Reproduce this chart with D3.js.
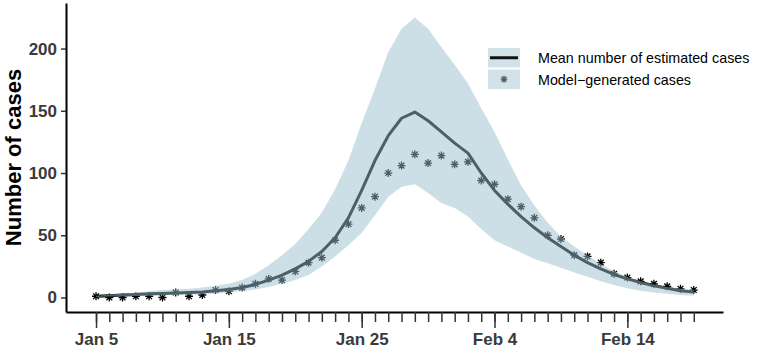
<!DOCTYPE html>
<html>
<head>
<meta charset="utf-8">
<script src="https://cdn.jsdelivr.net/npm/d3@7"></script>
<style>
  body { margin: 0; background: #fff; }
  text { font-family: "Liberation Sans", Arial, sans-serif; }
</style>
</head>
<body>
<div id="chart"></div>
<script>
// daily series, Jan 5 .. Feb 19
var startDay = "2020-01-05";
var modelCases = [1, 0, 0, 1, 1, 0, 4, 1, 2, 6, 5, 8, 11, 15, 14, 21, 28, 32, 46, 59, 72, 81,
  100, 106, 115, 108, 114, 107, 109, 94, 91, 79, 73, 64, 50, 47, 34, 33, 28, 19, 16, 13, 11, 9, 7, 6];
var meanCases = [1, 1.5, 2, 2.5, 3, 3.3, 3.6, 4, 4.5, 5.5, 6.5, 8, 10.5, 14, 18, 23, 29, 37, 48, 64, 86,
  110, 130, 144, 149, 142, 133, 124, 116, 100, 86, 75, 65, 56, 48, 41, 34, 28, 23, 18.5, 15, 12, 9.5, 7.5, 5.5, 4.5];
var upperCases = [1.5, 2.5, 3, 4, 5, 6, 6.5, 7, 8, 9.5, 11, 14, 19, 26, 34, 43, 55, 68, 87, 110, 140,
  168, 197, 216, 225, 216, 201, 187, 172, 152, 133, 111, 90, 74, 60, 49, 41, 34, 27, 21, 16.5, 13, 10.5, 8.5, 7, 6];
var lowerCases = [0.5, 0.8, 1, 1.2, 1.5, 1.8, 2, 2.3, 2.7, 3.2, 4, 5, 6.5, 8.5, 11, 14, 18, 25, 33, 42, 52,
  66, 81, 89, 91, 84, 76, 72, 65, 55, 46, 41, 36, 31, 27.5, 24, 20, 16.7, 13, 10, 7.5, 5.5, 4, 3, 2, 1.5];
var majorTicks = ["2020-01-05", "2020-01-15", "2020-01-25", "2020-02-04", "2020-02-14"];
var yTicks = [0, 50, 100, 150, 200];
var legendLabels = ["Mean number of estimated cases", "Model\u2212generated cases"];

var width = 765, height = 349;
var mLeft = 66, mRight = 723, mTop = 3, mBottom = 312;
var dayMs = 86400000;

var parse = d3.timeParse("%Y-%m-%d");
var t0 = parse(startDay);
var dates = modelCases.map(function(d, i) { return d3.timeDay.offset(t0, i); });
var data = dates.map(function(d, i) {
  return { date: d, model: modelCases[i], mean: meanCases[i], lo: lowerCases[i], hi: upperCases[i] };
});

var svg = d3.select("#chart").append("svg")
  .attr("width", width)
  .attr("height", height);

var x = d3.scaleTime()
  .domain([new Date(+dates[0] - 2.26 * dayMs), new Date(+dates[dates.length - 1] + 2.2 * dayMs)])
  .range([mLeft, mRight]);
var y = d3.scaleLinear()
  .domain([-11.65, 236.6])
  .range([mBottom, mTop]);

var inkBlue = "#9ac0cd";

// asterisk glyph (+ and x)
function star(r) {
  var a = r * 0.72;
  return "M" + (-r) + ",0L" + r + ",0M0," + (-r) + "L0," + r +
    "M" + (-a) + "," + (-a) + "L" + a + "," + a + "M" + (-a) + "," + a + "L" + a + "," + (-a);
}

// points
svg.append("g").selectAll("path")
  .data(data)
  .enter().append("path")
  .attr("transform", function(d) { return "translate(" + x(d.date) + "," + y(d.model) + ")"; })
  .attr("d", star(4))
  .attr("stroke", "#000")
  .attr("stroke-width", 1.3)
  .attr("fill", "none");

// mean line
svg.append("path")
  .datum(data)
  .attr("fill", "none")
  .attr("stroke", "#000")
  .attr("stroke-width", 3)
  .attr("stroke-linejoin", "round")
  .attr("d", d3.line()
    .x(function(d) { return x(d.date); })
    .y(function(d) { return y(d.mean); }));

// ribbon on top, semi transparent
svg.append("path")
  .datum(data)
  .attr("fill", inkBlue)
  .attr("fill-opacity", 0.5)
  .attr("d", d3.area()
    .x(function(d) { return x(d.date); })
    .y0(function(d) { return y(d.lo); })
    .y1(function(d) { return y(d.hi); }));

// y axis
var yAxis = svg.append("g")
  .attr("transform", "translate(" + mLeft + ",0)")
  .call(d3.axisLeft(y).tickValues(yTicks).tickSize(5).tickSizeOuter(0).tickPadding(4));
yAxis.select(".domain").attr("stroke", "#000").attr("stroke-width", 2);
yAxis.selectAll(".tick line").attr("stroke", "#333").attr("stroke-width", 1.5);
yAxis.selectAll(".tick text")
  .attr("font-size", 17).attr("font-weight", "bold").attr("fill", "#3a3a3a")
  .style("font-family", "'Liberation Sans', Arial, sans-serif");

// x axis: minor ticks every day, major ticks with labels
var xMinor = svg.append("g")
  .attr("transform", "translate(0," + mBottom + ")")
  .call(d3.axisBottom(x).tickValues(dates).tickSize(10).tickSizeOuter(0).tickFormat(""));
xMinor.select(".domain").attr("stroke", "#000").attr("stroke-width", 2);
xMinor.selectAll(".tick line").attr("stroke", "#333").attr("stroke-width", 1.5);

var xMajor = svg.append("g")
  .attr("transform", "translate(0," + mBottom + ")")
  .call(d3.axisBottom(x).tickValues(majorTicks.map(parse)).tickSize(16).tickPadding(5)
    .tickFormat(d3.timeFormat("%b %-d")));
xMajor.select(".domain").remove();
xMajor.selectAll(".tick line").attr("stroke", "#333").attr("stroke-width", 1.5);
xMajor.selectAll(".tick text")
  .attr("font-size", 17).attr("font-weight", "bold").attr("fill", "#3a3a3a")
  .style("font-family", "'Liberation Sans', Arial, sans-serif");

// y title
svg.append("text")
  .attr("transform", "translate(21," + ((mTop + mBottom) / 2) + ") rotate(-90)")
  .attr("text-anchor", "middle")
  .attr("font-size", 22)
  .attr("font-weight", "bold")
  .attr("fill", "#000")
  .text("Number of cases");

// legend
var lg = svg.append("g").attr("transform", "translate(488,48)");
lg.selectAll("rect")
  .data(legendLabels)
  .enter().append("rect")
  .attr("x", 0)
  .attr("y", function(d, i) { return i * 21.5; })
  .attr("width", 32)
  .attr("height", 19.5)
  .attr("fill", inkBlue)
  .attr("fill-opacity", 0.45);
lg.append("line")
  .attr("x1", 2).attr("x2", 30)
  .attr("y1", 9.75).attr("y2", 9.75)
  .attr("stroke", "#111").attr("stroke-width", 3);
lg.append("path")
  .attr("transform", "translate(16," + (21.5 + 9.75) + ")")
  .attr("d", star(3.5))
  .attr("stroke", "#4a5a60").attr("stroke-width", 1.2).attr("fill", "none");
lg.selectAll("text")
  .data(legendLabels)
  .enter().append("text")
  .attr("x", 50)
  .attr("y", function(d, i) { return i * 21.5 + 10; })
  .attr("dy", "0.35em")
  .attr("font-size", 14.3)
  .attr("fill", "#000")
  .text(function(d) { return d; });
</script>
</body>
</html>
